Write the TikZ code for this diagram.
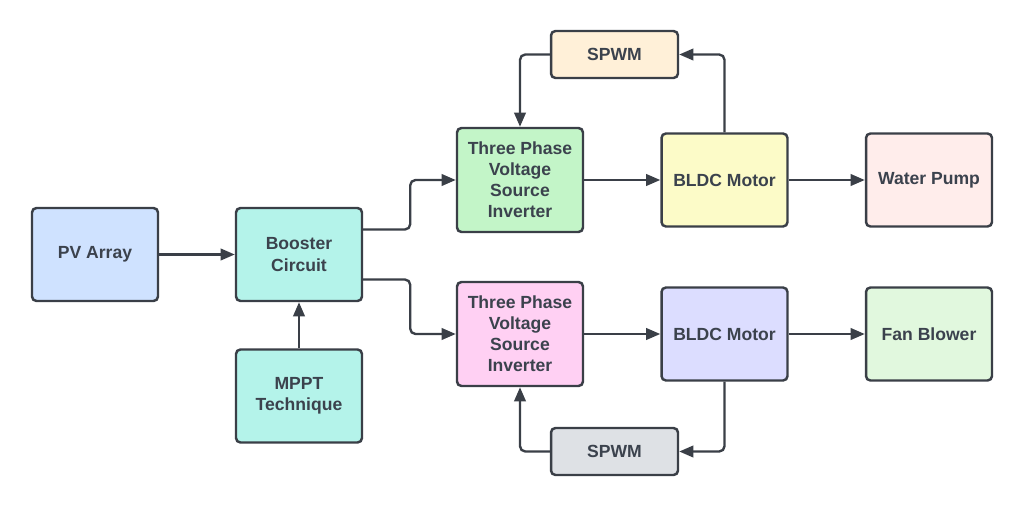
\documentclass[tikz,border=0pt]{standalone}
\usepackage{fontspec}
\setmainfont{Liberation Sans}
\usepackage{tikz}
\usetikzlibrary{positioning, arrows.meta}
\definecolor{lineGray}{RGB}{58,63,71}
\definecolor{textGray}{RGB}{59,66,77}
\definecolor{pvBlue}{RGB}{207,226,255}
\definecolor{boostCyan}{RGB}{180,243,234}
\definecolor{invGreen}{RGB}{195,245,200}
\definecolor{invPink}{RGB}{255,208,243}
\definecolor{spwmCream}{RGB}{255,240,216}
\definecolor{spwmGray}{RGB}{222,225,229}
\definecolor{motYellow}{RGB}{252,251,200}
\definecolor{motLavender}{RGB}{220,221,255}
\definecolor{pumpRose}{RGB}{255,237,235}
\definecolor{fanMint}{RGB}{225,248,222}

\begin{document}
\begin{tikzpicture}[x=0.02cm, y=-0.02cm,
    block/.style={draw=lineGray, line width=1.4pt, rounded corners=2.5pt,
          minimum width=2.52cm, minimum height=1.86cm, align=center,
          text=textGray, font=\fontsize{10}{12}\selectfont\bfseries},
    tall/.style={block, minimum height=2.08cm},
    flat/.style={block, minimum width=2.54cm, minimum height=0.94cm},
    link/.style={draw=lineGray, line width=1.35pt, rounded corners=3pt,
          -{Triangle[length=8pt, width=6.5pt]}}]
    \useasboundingbox (0,0) rectangle (1024,507);

    % source side
    \node[block, fill=pvBlue] (pv) at (95,254.5) {PV Array};
    \node[block, fill=boostCyan] (boost) at (299,254.5) {Booster\\Circuit};
    \node[block, fill=boostCyan] (mppt) at (299,396) {MPPT\\Technique};

    % inverters and drives
    \node[tall, fill=invGreen] (invA) at (520,180) {Three Phase\\Voltage\\Source\\Inverter};
    \node[tall, fill=invPink] (invB) at (520,334) {Three Phase\\Voltage\\Source\\Inverter};
    \node[flat, fill=spwmCream] (spwmA) at (614.5,54.5) {SPWM};
    \node[flat, fill=spwmGray] (spwmB) at (614.5,451.5) {SPWM};
    \node[block, fill=motYellow] (motA) at (724.5,180) {BLDC Motor};
    \node[block, fill=motLavender] (motB) at (724.5,334) {BLDC Motor};
    \node[block, fill=pumpRose] (pump) at (929,180) {Water Pump};
    \node[block, fill=fanMint] (fan) at (929,334) {Fan Blower};

    % connectors
    \draw[link] (pv) -- (boost);
    \draw[link] (mppt) -- (boost);
    \draw[link] ([yshift=0.5cm]boost.east) -- ++(47,0) |- (invA.west);
    \draw[link] ([yshift=-0.5cm]boost.east) -- ++(47,0) |- (invB.west);
    \draw[link] (invA) -- (motA);
    \draw[link] (invB) -- (motB);
    \draw[link] (motA) -- (pump);
    \draw[link] (motB) -- (fan);
    \draw[link] (motA.north) |- (spwmA.east);
    \draw[link] (spwmA.west) -| (invA.north);
    \draw[link] (motB.south) |- (spwmB.east);
    \draw[link] (spwmB.west) -| (invB.south);
\end{tikzpicture}
\end{document}
